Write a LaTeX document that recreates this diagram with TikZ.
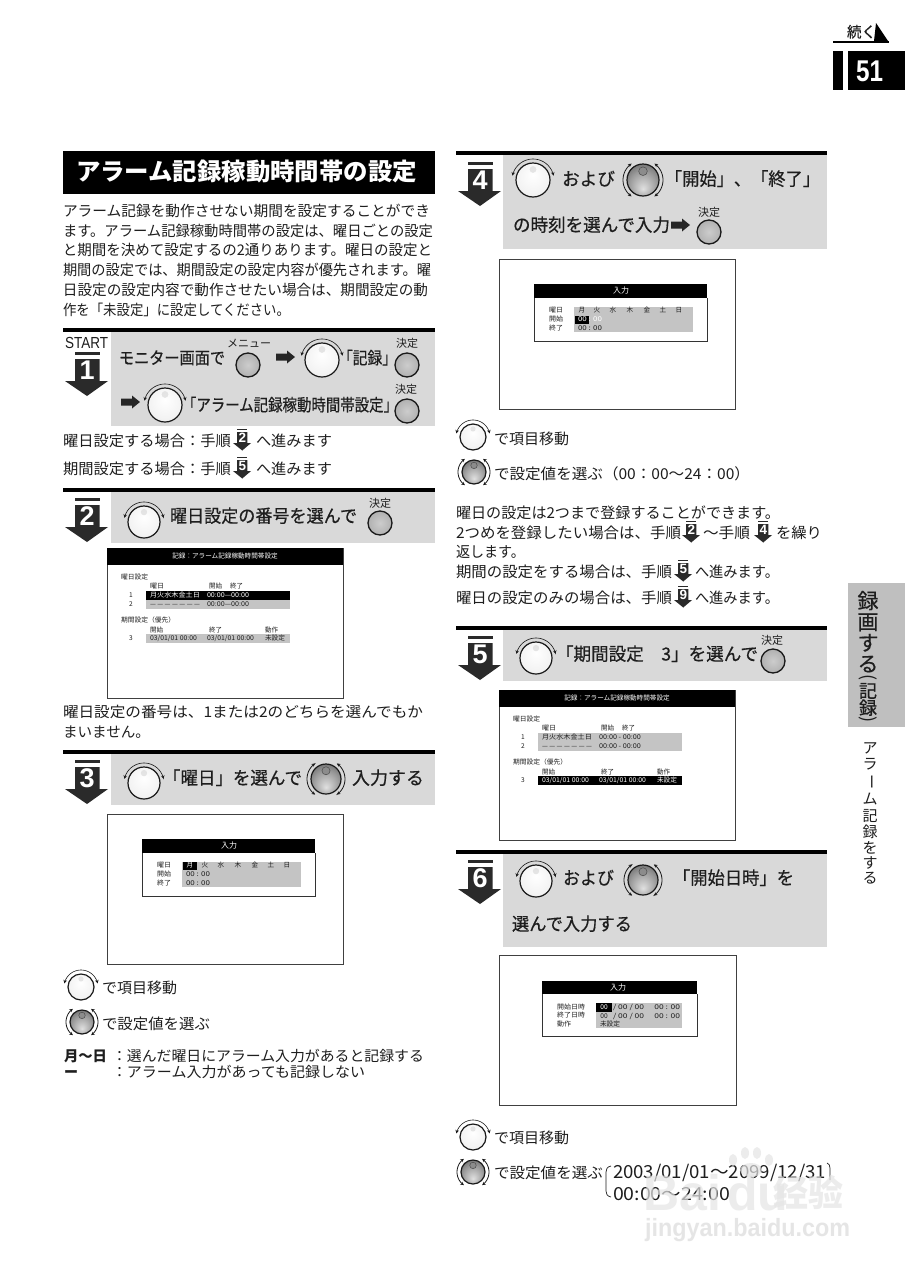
\documentclass[tikz,border=0pt]{standalone}
\usepackage{fontspec}
\usepackage{graphicx}
\usetikzlibrary{arrows.meta}
\setmainfont{Liberation Sans}
\newfontfamily\cjk{Noto Sans CJK JP}
\newfontfamily\cjkm[FakeBold=0.5]{Noto Sans CJK JP}
\newfontfamily\cn{Noto Sans CJK SC}
\newfontfamily\lib{Liberation Sans}
\definecolor{panel}{HTML}{D9D9D9}
\definecolor{ink}{HTML}{1E1E1E}
\definecolor{scr}{HTML}{C4C4C4}
\definecolor{markc}{HTML}{2A2A2A}
\pgfdeclareradialshading{dialsh}{\pgfpoint{0bp}{8bp}}{color(0bp)=(white); color(25bp)=(black!5); color(50bp)=(black!32)}
\pgfdeclareradialshading{darksh}{\pgfpoint{0bp}{-14bp}}{color(0bp)=(black!12); color(22bp)=(black!40); color(50bp)=(black!82)}
\pgfdeclareradialshading{btnsh}{\pgfpoint{0bp}{0bp}}{color(0bp)=(black!20); color(28bp)=(black!32); color(50bp)=(black!62)}
\newcount\nn
\tikzset{
  txt/.style={anchor=base west,inner sep=0pt,outer sep=0pt,text=ink},
  ctxt/.style={anchor=base,inner sep=0pt,outer sep=0pt,text=ink},
  rulebar/.style={fill=black},
  panelbox/.style={fill=panel},
  screenbox/.style={draw=black!75,line width=.9pt,fill=white},
  wmark/.style={anchor=base west,inner sep=0pt,text=black!10},
}
% [font] x ycentre width size text : text fitted to a width
\newcommand\T[6][\cjk]{\global\advance\nn by 1
  \node[txt] (t\the\nn) at ({#2},{#3+0.36*#5}) {\resizebox{#4pt}{\height}{\fontsize{#5}{#5}\selectfont #1#6}};}
% [font] x ycentre size text : centred text
\newcommand\C[5][\cjk]{\global\advance\nn by 1
  \node[ctxt] (t\the\nn) at ({#2},{#3+0.36*#4}) {\fontsize{#4}{#4}\selectfont #1#5};}
% x y(top bar) xscale yscale digit
\newcommand\stepmark[5]{\begin{scope}[shift={(#1,#2)},xscale=#3,yscale=#4]
  \fill[markc] (10,0) rectangle (34.5,3);
  \fill[markc] (10,7) -- (34.5,7) -- (34.5,29) -- (43,29) -- (22,44) -- (0,29) -- (10,29) -- cycle;
  \pgfmathsetmacro\dsz{27*#4}
  \global\advance\nn by 1
  \node[inner sep=0pt,text=white] (m\the\nn) at (22.2,18) {\fontsize{\dsz}{\dsz}\selectfont\lib\bfseries #5};
\end{scope}}
\newcommand\smallmark[3]{\stepmark{#1}{#2}{0.42}{0.5}{#3}}
\newcommand\dial[3]{% x y r
  \shade[shading=dialsh] (#1,#2) circle[radius=#3];
  \draw[line width=1.2pt,black!90] (#1,#2) circle[radius=#3];
  \fill[black!14,opacity=.7] (#1,#2-#3*.62) circle[radius=#3*.2];
  \draw[line width=.6pt,black!90,{Stealth[length=3.5pt,width=3.5pt]}-{Stealth[length=3.5pt,width=3.5pt]}] plot[domain=12:168,samples=30,smooth] ({#1+(#3+4)*cos(\x)},{#2-(#3+4)*sin(\x)});
}
\newcommand\darkdial[3]{% x y r
  \shade[shading=darksh] (#1,#2) circle[radius=#3];
  \draw[line width=1.2pt,black!90] (#1,#2) circle[radius=#3];
  \filldraw[fill=black!45,draw=black!70,line width=.5pt] (#1,#2-#3*.55) circle[radius=#3*.27];
  \draw[line width=.8pt,black!90,{Stealth[length=3.5pt,width=3.5pt]}-{Stealth[length=3.5pt,width=3.5pt]}] plot[domain=125:235,samples=20,smooth] ({#1+(#3+4)*cos(\x)},{#2-(#3+4)*sin(\x)});
  \draw[line width=.8pt,black!90,{Stealth[length=3.5pt,width=3.5pt]}-{Stealth[length=3.5pt,width=3.5pt]}] plot[domain=-55:55,samples=20,smooth] ({#1+(#3+4)*cos(\x)},{#2-(#3+4)*sin(\x)});
}
\newcommand\btn[3]{% x y r
  \shade[shading=btnsh] (#1,#2) circle[radius=#3];
  \draw[line width=1.3pt,black!90] (#1,#2) circle[radius=#3];
}
\newcommand\rarrow[2]{\fill[black!85] (#1,#2-3.5) -- (#1+11,#2-3.5) -- (#1+11,#2-6.5) -- (#1+19,#2) -- (#1+11,#2+6.5) -- (#1+11,#2+3.5) -- (#1,#2+3.5) -- cycle;}
% dx dy row1fill row1text row3fill row3text separator
\newcommand\screenA[7]{\begin{scope}[shift={(#1,#2)}]
  \draw[screenbox] (107,548) rectangle (343,698);
  \fill[black] (107,548) rectangle (343,565);
  \C[\cjk\color{white}]{225}{556}{6.6}{記録：アラーム記録稼動時間帯設定}
  \T{121}{577}{27}{6.6}{曜日設定}
  \T{150}{586}{14}{6.6}{曜日}
  \T{209}{586}{13}{6.6}{開始}
  \T{230}{586}{13}{6.6}{終了}
  \C{131}{595}{6.6}{1}\C{131}{604}{6.6}{2}
  \fill[#3] (146,591) rectangle (290,600);
  \fill[scr] (146,600) rectangle (290,609);
  \T[\cjk\color{#4}]{150}{595}{50}{6.6}{月火水木金土日}
  \T[\cjk\color{#4}]{207}{595}{42}{6.6}{00:00#700:00}
  \T{150}{604}{50}{6.6}{—  —  —  —  —  —  —}
  \T{207}{604}{42}{6.6}{00:00#700:00}
  \T{121}{620}{54}{6.6}{期間設定（優先）}
  \T{150}{630}{13}{6.6}{開始}\T{209}{630}{13}{6.6}{終了}\T{265}{630}{13}{6.6}{動作}
  \C{131}{638}{6.6}{3}
  \fill[#5] (146,634) rectangle (290,643);
  \T[\cjk\color{#6}]{150}{638}{47}{6.6}{03/01/01 00:00}
  \T[\cjk\color{#6}]{207}{638}{47}{6.6}{03/01/01 00:00}
  \T[\cjk\color{#6}]{265}{638}{20}{6.6}{未設定}
\end{scope}}
% dx dy : input panel; #3 = highlighted cell
\newcommand\screenB[5]{\begin{scope}[shift={(#1,#2)}]
  \draw[screenbox] (107,814) rectangle (343,964);
  \fill[black] (142,839) rectangle (315,853);
  \draw[black!80,line width=.7pt] (142,853) -- (142,896) -- (315,896) -- (315,853);
  \C[\cjk\color{white}]{229}{846}{8}{入力}
  \T{157}{865}{14}{6.6}{曜日}\T{157}{874}{14}{6.6}{開始}\T{157}{883}{14}{6.6}{終了}
  \fill[scr] (182,862) rectangle (301,887);
  \fill[black] #3;
  \C[\cjk\color{#4}]{190}{865.5}{6.6}{月}
  \C{205}{865.5}{6.6}{火}\C{221}{865.5}{6.6}{水}\C{238}{865.5}{6.6}{木}
  \C{255}{865.5}{6.6}{金}\C{271}{865.5}{6.6}{土}\C{287}{865.5}{6.6}{日}
  \T[\cjk\color{#5}]{186}{874.5}{24}{6.6}{00 : 00}
  \T{186}{883.5}{24}{6.6}{00 : 00}
\end{scope}}
\begin{document}
\begin{tikzpicture}[x=1pt,y=-1pt]
\useasboundingbox (0,0) rectangle (905,1280);
\fill[white] (0,0) rectangle (905,1280);

% ---- top right
\fill[black] (833,40.5) rectangle (889,42.5);
\T[\cjkm]{847}{32}{29}{15}{続く}
\fill[black] (876,23) -- (888,41) -- (874,41) -- cycle;
\fill[black] (833,51) rectangle (843,90);
\fill[black] (848,51) rectangle (905,90);
\node[inner sep=0pt,text=white] (pagenum) at (869.5,71) {\resizebox{27pt}{\height}{\fontsize{30}{30}\selectfont\lib\bfseries 51}};

% ---- title
\fill[black] (63,151) rectangle (435,194);
\T[\cjk\bfseries\color{white}]{76}{172}{341}{24}{アラーム記録稼動時間帯の設定}

% ---- intro
\T{63}{211}{367}{14.7}{アラーム記録を動作させない期間を設定することができ}
\T{63}{231}{370}{14.7}{ます。アラーム記録稼動時間帯の設定は、曜日ごとの設定}
\T{63}{250}{369}{14.7}{と期間を決めて設定するの2通りあります。曜日の設定と}
\T{63}{270}{368}{14.7}{期間の設定では、期間設定の設定内容が優先されます。曜}
\T{63}{290}{365}{14.7}{日設定の設定内容で動作させたい場合は、期間設定の動}
\T{63}{310}{227}{14.7}{作を「未設定」に設定してください。}

% ---- step 1
\fill[rulebar] (63,328) rectangle (435,332);
\fill[panelbox] (111,332) rectangle (435,426);
\T[\lib]{65}{343}{43}{16}{START}
\stepmark{65}{352}{1}{1}{1}
\T[\cjkm]{119}{358}{106}{17}{モニター画面で}
\C[\cjk]{249}{344}{11}{メニュー}
\btn{248}{365}{12}
\rarrow{276}{357}
\dial{322}{360}{17}
\T[\cjkm]{338}{358}{59}{17}{「記録」}
\C{407}{344}{11}{決定}
\btn{407}{365}{12}
\rarrow{121}{402}
\dial{165}{405}{17}
\T[\cjkm]{182}{405}{216}{17}{「アラーム記録稼動時間帯設定」}
\C{406}{390}{11}{決定}
\btn{407}{411}{12}
\T{63}{441}{168}{15}{曜日設定する場合：手順}
\smallmark{233}{428.5}{2}
\T{256}{441}{76}{15}{へ進みます}
\T{63}{469}{168}{15}{期間設定する場合：手順}
\smallmark{233}{456.5}{5}
\T{256}{469}{76}{15}{へ進みます}

% ---- step 2
\fill[rulebar] (63,488) rectangle (435,491.5);
\fill[panelbox] (111,491.5) rectangle (435,543);
\stepmark{65}{498}{1}{1}{2}
\dial{144}{522}{16}
\T[\cjkm]{170}{516}{187}{18}{曜日設定の番号を選んで}
\C{380}{504}{11}{決定}
\btn{380}{523}{12}
\screenA{0}{0}{black}{white}{scr}{ink}{—}
\T{63}{712}{360}{14.7}{曜日設定の番号は、1または2のどちらを選んでもか}
\T{63}{732}{87}{14.7}{まいません。}

% ---- step 3
\fill[rulebar] (63,750) rectangle (435,753.5);
\fill[panelbox] (111,753.5) rectangle (435,805);
\stepmark{65}{760}{1}{1}{3}
\dial{144}{783}{16}
\T[\cjkm]{163}{778}{139}{18}{「曜日」を選んで}
\darkdial{326}{779}{15}
\T[\cjkm]{352}{778}{72}{18}{入力する}
\screenB{0}{0}{(183,862) rectangle (197,870)}{white}{ink}
\dial{81}{987}{13}
\T{102}{988}{75}{15}{で項目移動}
\darkdial{82}{1022}{12}
\T{102}{1024}{108}{15}{で設定値を選ぶ}
\T[\cjk\bfseries]{64}{1056}{43}{14.5}{月〜日}
\T{112}{1056}{312}{14.5}{：選んだ曜日にアラーム入力があると記録する}
\T[\cjk\bfseries]{64}{1072}{14}{14.5}{ー}
\T{112}{1072}{253}{14.5}{：アラーム入力があっても記録しない}

% ---- step 4
\fill[rulebar] (456,151) rectangle (827,155);
\fill[panelbox] (503,155) rectangle (827,249);
\stepmark{458}{162}{1}{1}{4}
\dial{533}{180}{17}
\T[\cjkm]{562}{179}{53}{18}{および}
\darkdial{643}{180}{16}
\T[\cjkm]{665}{179}{155}{18}{「開始」、「終了」}
\T[\cjkm]{513}{225}{157}{18}{の時刻を選んで入力}
\rarrow{671}{225}
\C{709}{213}{11}{決定}
\btn{709}{232}{12}
\screenB{392}{-555}{(183,871) rectangle (197,879)}{ink}{white}
\dial{473}{437}{13}
\T{494}{439}{75}{15}{で項目移動}
\darkdial{474}{472}{12}
\T{494}{474}{256}{15}{で設定値を選ぶ（00：00〜24：00）}
\T{456}{513}{324}{15}{曜日の設定は2つまで登録することができます。}
\T{456}{533}{225}{15}{2つめを登録したい場合は、手順}
\smallmark{682}{520.5}{2}
\T{703}{533}{47}{15}{〜手順}
\smallmark{754}{520.5}{4}
\T{776}{533}{46}{15}{を繰り}
\T{456}{552}{69}{15}{返します。}
\T{456}{572}{216}{15}{期間の設定をする場合は、手順}
\smallmark{674}{559.5}{5}
\T{695}{572}{84}{15}{へ進みます。}
\T{456}{598}{216}{15}{曜日の設定のみの場合は、手順}
\smallmark{674}{585.5}{9}
\T{695}{598}{84}{15}{へ進みます。}

% ---- step 5
\fill[rulebar] (456,626) rectangle (827,629.5);
\fill[panelbox] (503,629.5) rectangle (827,681);
\stepmark{458}{636}{1}{1}{5}
\dial{536}{658}{16}
\T[\cjkm]{556}{654}{202}{18}{「期間設定　3」を選んで}
\C{772}{641}{11}{決定}
\btn{773}{661}{12}
\screenA{392}{142}{scr}{ink}{black}{white}{ - }

% ---- step 6
\fill[rulebar] (456,850) rectangle (827,853.5);
\fill[panelbox] (503,853.5) rectangle (827,947);
\stepmark{458}{860}{1}{1}{6}
\dial{536}{881}{16}
\T[\cjkm]{563}{878}{51}{18}{および}
\darkdial{643}{880}{15}
\T[\cjkm]{673}{878}{121}{18}{「開始日時」を}
\T[\cjkm]{512}{924}{120}{18}{選んで入力する}
\draw[screenbox] (499,955) rectangle (736,1105);
\fill[black] (542,981) rectangle (697,994);
\draw[black!80,line width=.7pt] (542,994) -- (542,1036) -- (697,1036) -- (697,994);
\C[\cjk\color{white}]{618}{987.5}{8}{入力}
\T{557}{1007}{28}{6.6}{開始日時}\T{557}{1015.5}{28}{6.6}{終了日時}\T{557}{1024}{14}{6.6}{動作}
\fill[scr] (596,1003) rectangle (682,1028);
\fill[black] (596,1003) rectangle (612,1011.5);
\C[\cjk\color{white}]{604}{1007.5}{6.6}{00}
\T{613}{1007.5}{67}{6.6}{/ 00 / 00 \quad 00 : 00}
\C{604}{1016}{6.6}{00}
\T{613}{1016}{67}{6.6}{/ 00 / 00 \quad 00 : 00}
\T{600}{1024}{20}{6.6}{未設定}
\dial{473}{1137}{13}
\T{494}{1138}{75}{15}{で項目移動}
\darkdial{473}{1172}{12}
\T{494}{1173}{109}{15}{で設定値を選ぶ}
\draw[ink,line width=.7pt] (611,1166) .. controls (607,1167) and (606,1169) .. (606,1172) -- (606,1191) .. controls (606,1194) and (607,1196) .. (611,1197);
\T{613}{1172}{213}{18}{2003/01/01〜2099/12/31}
\T{613}{1194}{117}{18}{00:00〜24:00}
\draw[ink,line width=.7pt] (827,1163) .. controls (829,1164) and (830,1165) .. (830,1168) -- (830,1180);

% ---- side tab
\fill[black!25] (848,583) rectangle (905,727);
\foreach \ch/\yy in {録/601,画/622,す/643,る/664}{\C[\cjkm]{868}{\yy}{21}{\ch}}
\node[inner sep=0pt,rotate=-90,text=ink] (tabl) at (868,678) {\fontsize{18}{18}\selectfont\cjk (};
\foreach \ch/\yy in {記/691,録/708}{\C[\cjkm]{868}{\yy}{18}{\ch}}
\node[inner sep=0pt,rotate=-90,text=ink] (tabr) at (868,720) {\fontsize{18}{18}\selectfont\cjk )};
\foreach \ch/\yy in {ア/749,ラ/765,ム/800,記/817,録/833,を/849,す/864,る/879}{\C{870}{\yy-1}{15}{\ch}}
\node[inner sep=0pt,rotate=90,text=ink,yscale=-1] (tabd) at (870,782) {\fontsize{15}{15}\selectfont\cjk ー};

% ---- watermark
\begin{scope}[opacity=.7]
\node[wmark] (wm1) at (643,1210) {\fontsize{50}{50}\selectfont\lib\bfseries Bai};
\node[wmark] (wm2) at (727,1210) {\fontsize{50}{50}\selectfont\lib\bfseries du};
\node[wmark] (wm3) at (773,1206) {\resizebox{70pt}{\height}{\fontsize{36}{36}\selectfont\cn\bfseries 经验}};
\fill[black!10] (733,1160) ellipse[x radius=4,y radius=6];
\fill[black!10] (745,1153) ellipse[x radius=4,y radius=6];
\fill[black!10] (757,1153) ellipse[x radius=4,y radius=6];
\fill[black!10] (769,1160) ellipse[x radius=4,y radius=6];
\fill[black!10] (751,1170) ellipse[x radius=11,y radius=7];
\node[wmark,text=black!14] (wm4) at (645,1236) {\resizebox{205pt}{\height}{\fontsize{25}{25}\selectfont\lib\bfseries jingyan.baidu.com}};
\end{scope}
\end{tikzpicture}
\end{document}
